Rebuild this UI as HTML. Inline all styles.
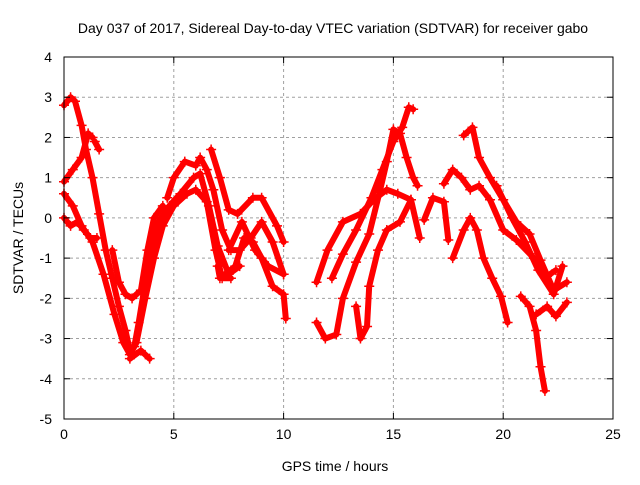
<!DOCTYPE html>
<html><head><meta charset="utf-8"><style>
body{margin:0;background:#fff;}
svg text{font-family:"Liberation Sans",sans-serif;font-size:14px;fill:#000;}
</style></head><body>
<svg id="chart" width="640" height="480" xmlns="http://www.w3.org/2000/svg">
<text x="333" y="33" text-anchor="middle">Day 037 of 2017, Sidereal Day-to-day VTEC variation (SDTVAR) for receiver gabo</text>
<text transform="translate(23,238) rotate(-90)" text-anchor="middle">SDTVAR / TECUs</text>
<text x="335" y="471" text-anchor="middle">GPS time / hours</text>
<g id="grid"></g>
<g id="marks"></g>
<rect x="64" y="57" width="549" height="362" fill="none" stroke="#000" stroke-width="1"/>
<g id="ticks"></g>
</svg>
<script>
const xTicks=[0,5,10,15,20,25];
const yTicks=[4,3,2,1,0,-1,-2,-3,-4,-5];
const trackA=[[0,2.8],[0.3,3.0],[0.5,2.9],[0.8,2.3],[1.0,1.7],[1.3,1.0],[1.6,0.1],[1.9,-0.8],[2.2,-1.5],[2.5,-2.2],[2.8,-2.8],[3.0,-3.3],[3.2,-3.2],[3.4,-2.6],[3.7,-1.6],[4.0,-0.7],[4.3,-0.1],[4.8,0.3],[5.3,0.6],[5.9,1.0],[6.2,1.1],[6.6,0.3],[7.0,-0.7],[7.5,-1.4],[8.0,-1.2]];
const trackB=[[0,0.9],[0.4,1.2],[0.8,1.5],[1.1,2.1],[1.3,2.0]];
const trackB2=[[1.4,1.9],[1.6,1.7]];
const trackC=[[0,0.6],[0.4,0.3],[0.8,-0.2],[1.3,-0.6],[1.8,-1.4],[2.3,-2.4],[2.7,-3.1],[3.0,-3.4],[3.3,-3.1],[3.7,-2.0],[4.1,-1.0],[4.5,-0.2],[5.0,0.3],[5.6,0.6],[6.0,0.7],[6.5,0.4],[6.9,-0.8],[7.2,-1.5],[7.6,-1.5]];
const trackD=[[0,0],[0.3,-0.2],[0.6,-0.1],[0.9,-0.3],[1.2,-0.5],[1.5,-0.5]];
const trackE=[[2.2,-0.8],[2.5,-1.6],[2.8,-1.9],[3.1,-2.0],[3.5,-1.8],[3.8,-0.8],[4.1,0.0],[4.5,0.3]];
const trackE2=[[3.0,-3.5],[3.5,-3.3],[3.9,-3.5]];
const trackF=[[4.7,0.5],[5.0,1.0],[5.5,1.4],[6.0,1.3],[6.2,1.5],[6.5,1.2],[6.8,0.7],[7.2,-0.3],[7.6,-0.8],[8.0,-0.8],[8.5,-0.5],[9.0,-0.1],[9.5,-0.6],[10.0,-1.4]];
const trackG=[[6.7,1.7],[7.1,1.0],[7.5,0.2],[7.9,0.1],[8.6,0.5],[9.0,0.5],[9.7,-0.2],[10.0,-0.6]];
const trackH=[[7.0,-1.2],[7.1,-1.5],[7.8,-1.2],[8.2,-0.5],[8.6,-0.6],[9.0,-1.0],[9.5,-1.7],[10.0,-1.9],[10.1,-2.5]];
const trackI=[[7.5,-0.8],[8.1,-0.1],[8.7,-0.8],[9.3,-1.2],[10.0,-1.4]];
const trackR1=[[11.5,-1.6],[12.0,-0.8],[12.7,-0.1],[13.5,0.1],[14.1,0.45],[14.7,0.7],[15.2,0.6],[15.8,0.45],[16.2,-0.5]];
const trackR2=[[11.5,-2.6],[11.9,-3.0],[12.4,-2.9],[12.7,-2.0],[13.3,-1.1],[13.9,-0.4],[14.4,0.7],[14.7,1.4],[15.0,2.2],[15.3,2.1],[15.6,1.5],[15.9,1.0],[16.1,0.8]];
const trackR3=[[13.3,-2.2],[13.5,-3.0],[13.8,-2.7],[13.9,-1.7],[14.3,-0.8],[14.7,-0.3],[15.3,-0.1],[15.8,0.45]];
const trackR4=[[12.2,-1.5],[12.7,-0.9],[13.3,-0.3],[14.0,0.5],[14.5,1.2],[15.0,1.9],[15.4,2.25],[15.7,2.75],[15.9,2.7]];
const trackR5=[[16.4,-0.05],[16.8,0.5],[17.3,0.4],[17.5,-0.55]];
const trackR6=[[17.3,0.85],[17.7,1.2],[18.1,1.0],[18.5,0.7],[18.9,0.8],[19.4,0.45],[20.0,-0.3],[20.6,-0.55],[21.4,-1.0],[22.0,-1.45],[22.4,-1.3]];
const trackR7=[[18.2,2.05],[18.6,2.25],[18.9,1.5],[19.4,1.0],[20.0,0.45],[20.6,-0.1],[21.2,-0.4],[21.7,-1.05],[22.3,-1.8],[22.9,-1.6]];
const trackR8=[[17.7,-1.0],[18.2,-0.3],[18.5,0.0],[18.8,-0.3],[19.1,-1.0],[19.5,-1.5],[19.9,-1.95],[20.2,-2.6]];
const trackR9=[[20.8,-1.95],[21.2,-2.2],[21.5,-2.8],[21.7,-3.7],[21.9,-4.3]];
const trackR10=[[21.5,-2.4],[22.0,-2.2],[22.4,-2.45],[22.9,-2.1]];
const trackR11=[[19.7,0.8],[20.4,0.0],[21.0,-0.6],[21.6,-1.3],[22.3,-1.9],[22.7,-1.2]];
const tracks=[trackA,trackB,trackB2,trackC,trackD,trackE,trackE2,trackF,trackG,trackH,trackI,trackR1,trackR2,trackR3,trackR4,trackR5,trackR6,trackR7,trackR8,trackR9,trackR10,trackR11];

const NS="http://www.w3.org/2000/svg";
const X0=64,X1=613,Y0=419,Y1=57;
function xs(t){return X0+(t-0)/25*(X1-X0);}
function ys(v){return Y0-(v+5)/9*(Y0-Y1);}
const grid=document.getElementById('grid'),ticks=document.getElementById('ticks'),marks=document.getElementById('marks');
function mk(tag,attrs,parent){const e=document.createElementNS(NS,tag);for(const k in attrs)e.setAttribute(k,attrs[k]);parent.appendChild(e);return e;}
xTicks.forEach(t=>{
  const x=xs(t);
  if(t>0&&t<25){const g=mk('line',{x1:x,x2:x,y1:Y1,y2:Y0,stroke:'#a0a0a0','stroke-dasharray':'3,3'},grid);
  
  }
  mk('line',{x1:x,x2:x,y1:Y0,y2:Y0-6,stroke:'#000'},ticks);
  mk('line',{x1:x,x2:x,y1:Y1,y2:Y1+6,stroke:'#000'},ticks);
  const tx=mk('text',{x:x,y:Y0+20,'text-anchor':'middle'},ticks);tx.textContent=t;
  
  
});
yTicks.forEach(v=>{
  const y=ys(v);
  if(v>-5&&v<4){const g=mk('line',{x1:X0,x2:X1,y1:y,y2:y,stroke:'#a0a0a0','stroke-dasharray':'3,3'},grid);
  
  }
  mk('line',{x1:X0,x2:X0+6,y1:y,y2:y,stroke:'#000'},ticks);
  mk('line',{x1:X1,x2:X1-6,y1:y,y2:y,stroke:'#000'},ticks);
  const tx=mk('text',{x:X0-12,y:y+5,'text-anchor':'end'},ticks);tx.textContent=v;
  
  
});
tracks.forEach(tr=>{
  const pts=tr.map(p=>xs(p[0]).toFixed(1)+','+ys(p[1]).toFixed(1)).join(' ');
  const pl=mk('polyline',{points:pts,fill:'none',stroke:'#ff0000','stroke-width':6,'stroke-linejoin':'round','stroke-linecap':'round'},marks);
  
  
  tr.forEach(p=>{
    const x=xs(p[0]),y=ys(p[1]);
    const m=mk('path',{d:`M${x-5},${y}H${x+5}M${x},${y-5}V${y+5}`,stroke:'#ff0000','stroke-width':1.5},marks);
    
    
  });
});
</script>
</body></html>
